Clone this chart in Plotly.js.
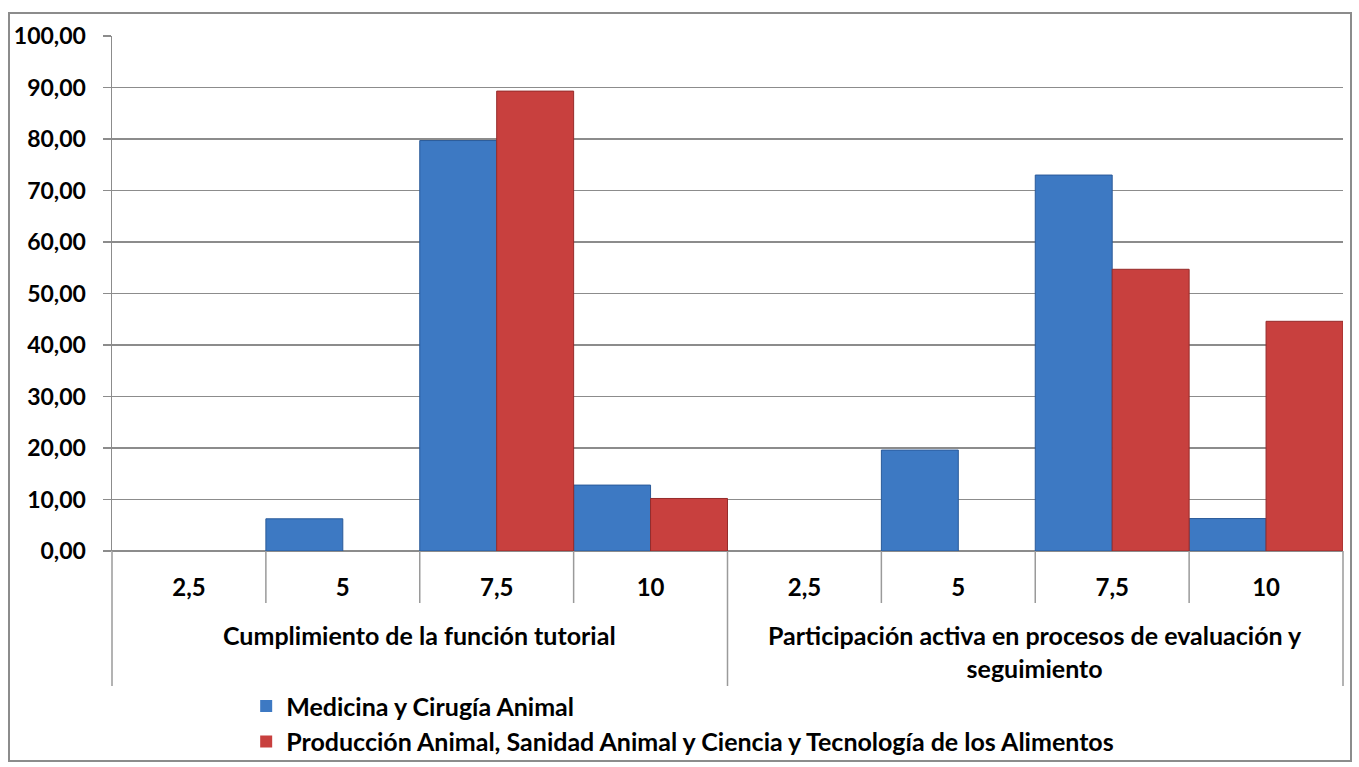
<!DOCTYPE html>
<html>
<head>
<meta charset="utf-8">
<script src="https://cdn.plot.ly/plotly-3.0.1.min.js"></script>
<style>
html,body{margin:0;padding:0;background:#fff;}
#wrap{position:relative;width:1359px;height:767px;}
#chart{position:absolute;left:0;top:0;width:1359px;height:767px;}
#frame{position:absolute;left:8px;top:12px;width:1340px;height:746px;border:2px solid #8c8c8c;pointer-events:none;}
</style>
</head>
<body>
<div id="wrap"><div id="chart"></div><div id="frame"></div></div>
<script>
const groups = ["Cumplimiento de la función tutorial", "Participación activa en procesos de evaluación y<br>seguimiento"];
const levels = ["2,5", "5", "7,5", "10"];
const seriesNames = ["Medicina y Cirugía Animal", "Producción Animal, Sanidad Animal y Ciencia y Tecnología de los Alimentos"];
const medicina = [0, 6.25, 79.7, 12.8, 0, 19.6, 73.0, 6.3];
const produccion = [0, 0, 89.3, 10.2, 0, 0, 54.7, 44.6];
const yTicks = [0, 10, 20, 30, 40, 50, 60, 70, 80, 90, 100];

const keys = [], tickText = [];
groups.forEach((g, gi) => levels.forEach(l => { keys.push("g" + gi + "_" + l); tickText.push(l); }));

const FONT = "Lato, 'Open Sans', sans-serif";
const BLUE = "#3D79C3", RED = "#C8403E";

const traces = [
  {type: "bar", name: seriesNames[0], x: keys, y: medicina,
   marker: {color: BLUE, line: {color: "#2A5A99", width: medicina.map(v => v > 0 ? 1 : 0)}}},
  {type: "bar", name: seriesNames[1], x: keys, y: produccion,
   marker: {color: RED, line: {color: "#962B2A", width: produccion.map(v => v > 0 ? 1 : 0)}}}
];

const nCat = keys.length;
const shapes = [];
const shortLen = -(603 - 551) / 515;
const longLen = -(686 - 551) / 515;
for (let i = 0; i <= nCat; i++) {
  const isLong = (i % levels.length === 0);
  shapes.push({type: "line", xref: "paper", yref: "paper", x0: i / nCat, x1: i / nCat,
    y0: 0, y1: isLong ? longLen : shortLen, line: {color: "#9a9a9a", width: 1.5}});
}

const annotations = groups.map((g, gi) => ({
  xref: "paper", yref: "paper", x: (gi + 0.5) / groups.length, y: -0.131,
  xanchor: "center", yanchor: "top", showarrow: false, text: "<b>" + g + "</b>",
  font: {family: FONT, size: 25, color: "#000"}, align: "center"
}));

const layout = {
  width: 1359, height: 767,
  margin: {l: 112, r: 16, t: 36, b: 216, pad: 0, autoexpand: false},
  paper_bgcolor: "#fff", plot_bgcolor: "#fff",
  barmode: "group", bargap: 0, bargroupgap: 0,
  separators: ",.",
  font: {family: FONT, size: 25, color: "#000"},
  showlegend: true,
  legend: {orientation: "v", x: 0.109, xanchor: "left", y: -0.257, yanchor: "top",
    font: {family: FONT, size: 25, color: "#000", weight: "bold"}, bgcolor: "rgba(0,0,0,0)",
    itemwidth: 30, traceorder: "normal", tracegroupgap: 0},
  xaxis: {type: "category", tickvals: keys, ticktext: tickText, ticks: "",
    showgrid: false, showline: false, zeroline: false,
    tickfont: {family: FONT, size: 24, color: "#000", weight: "bold"}, ticklabelstandoff: 20,
    fixedrange: true},
  yaxis: {range: [0, 100], tickvals: yTicks, tickformat: ".2f",
    showgrid: true, gridcolor: "#8c8c8c", gridwidth: 1.5,
    showline: true, linecolor: "#8c8c8c", linewidth: 1.5,
    ticks: "outside", ticklen: 8, tickcolor: "#8c8c8c", tickwidth: 1.5,
    zeroline: true, zerolinecolor: "#8c8c8c", zerolinewidth: 1.5,
    tickfont: {family: FONT, size: 23, color: "#000", weight: "bold"}, ticklabelstandoff: 12,
    fixedrange: true},
  shapes: shapes,
  annotations: annotations
};

Plotly.newPlot("chart", traces, layout, {displayModeBar: false, staticPlot: true});
</script>
</body>
</html>
